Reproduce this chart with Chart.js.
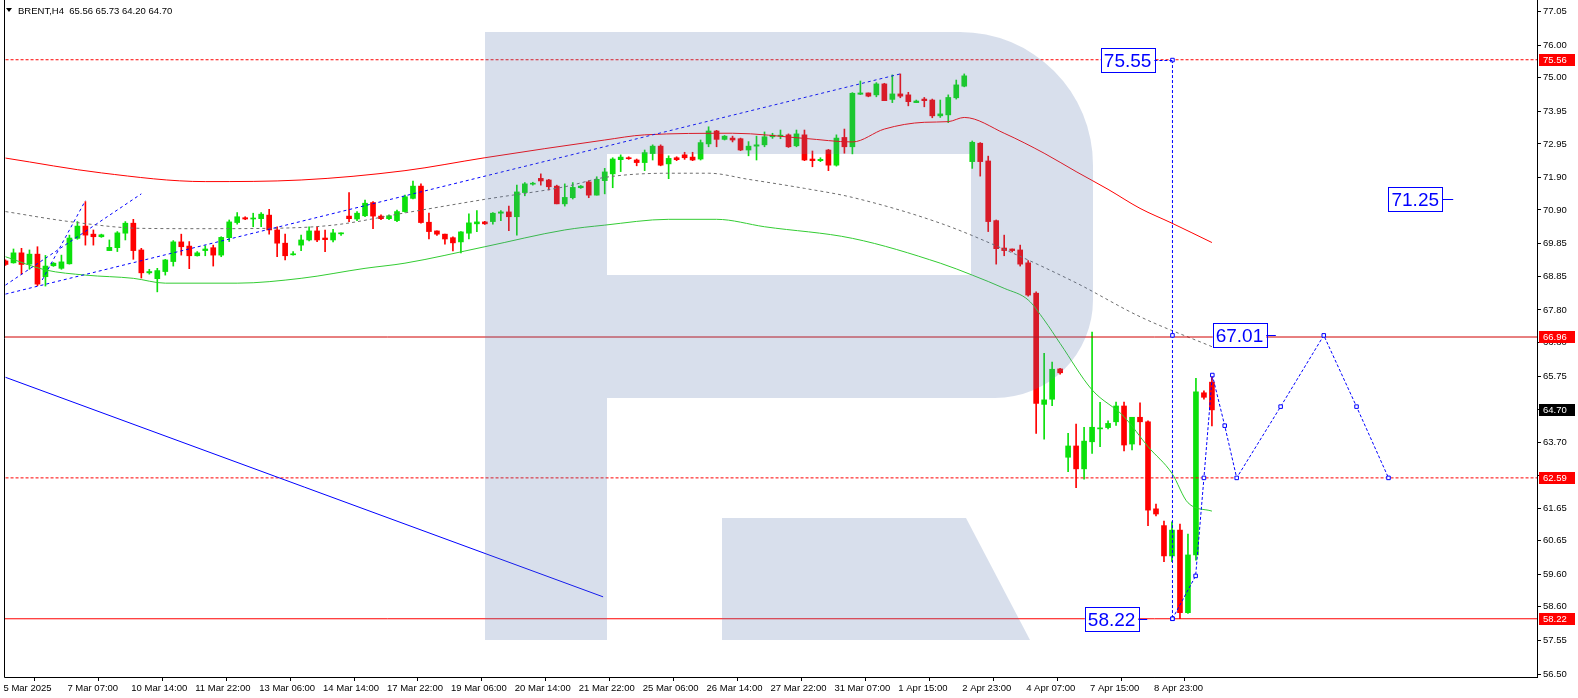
<!DOCTYPE html>
<html>
<head>
<meta charset="utf-8">
<script src="https://cdn.jsdelivr.net/npm/chart.js@4.4.1/dist/chart.umd.min.js"></script>
<style>
  html, body { margin: 0; padding: 0; background: #fff; }
  canvas { display: block; }
</style>
</head>
<body>
<canvas id="grafico" width="1578" height="698"></canvas>
<script>
const symbol = "BRENT,H4";

// H4 candles, one per bar index
const opens = [
  69.32,69.26,69.57,69.22,69.53,68.83,69.17,69.09,69.23,70.02,
  70.40,70.15,70.07,69.64,69.73,70.18,70.49,69.66,68.95,68.77,
  68.99,69.30,69.91,69.78,69.48,69.64,69.73,69.50,70.04,70.51,
  70.66,70.62,70.63,70.74,70.28,69.87,69.51,69.81,69.97,70.25,
  70.03,69.97,70.16,70.71,70.62,70.72,71.13,70.71,70.63,70.57,
  70.85,71.26,71.64,70.52,70.25,70.15,70.04,69.91,70.18,70.47,
  70.53,70.54,70.80,70.84,70.69,71.44,71.70,71.88,71.83,71.64,
  71.09,71.28,71.59,71.77,71.36,71.81,72.02,72.46,72.52,72.45,
  72.37,72.65,72.88,72.33,72.52,72.61,72.54,72.48,72.95,73.35,
  73.09,73.13,73.11,72.76,72.88,72.92,73.17,73.19,73.23,72.89,
  73.23,72.48,72.43,72.76,72.29,73.15,72.86,74.49,74.53,74.47,
  74.81,74.33,74.50,74.47,74.23,74.34,74.31,73.82,73.85,74.38,
  74.74,72.40,72.97,72.42,70.57,69.72,69.69,69.66,69.26,68.32,
  64.87,65.03,65.97,63.23,63.58,62.87,63.71,64.11,64.15,64.33,
  64.82,63.64,64.47,64.33,61.63,61.11,60.17,60.97,58.41,60.20,
  65.23,65.56
];
const highs = [
  69.35,69.69,69.71,69.66,69.76,69.49,69.27,69.50,70.12,70.54,
  71.16,70.28,70.15,69.97,70.23,70.54,70.61,69.71,69.06,69.09,
  69.37,69.95,70.15,69.92,69.61,69.79,69.81,70.07,70.59,70.82,
  70.69,70.80,70.82,70.92,70.38,70.15,69.61,70.12,70.38,70.38,
  70.28,70.30,70.19,71.44,70.85,71.21,71.16,70.75,70.75,70.90,
  71.36,71.80,71.71,70.80,70.25,70.15,70.07,70.23,70.78,70.88,
  70.55,70.82,70.88,71.02,71.67,71.75,71.76,72.02,71.85,71.67,
  71.71,71.75,71.66,71.81,71.93,72.19,72.52,72.61,72.55,72.48,
  72.76,72.92,72.92,72.58,72.55,72.69,72.69,73.07,73.48,73.37,
  73.21,73.19,73.13,73.02,73.19,73.32,73.28,73.38,73.26,73.38,
  73.38,72.73,72.52,72.78,73.23,73.41,74.54,74.90,74.53,74.85,
  74.83,75.09,75.12,74.55,74.31,74.39,74.34,74.31,74.47,74.93,
  75.12,73.04,72.99,72.57,70.59,70.12,69.69,69.81,69.33,68.36,
  66.45,66.18,65.99,63.97,64.26,64.16,67.11,64.93,64.36,64.94,
  64.94,64.47,64.92,64.36,61.78,61.25,61.23,61.16,60.85,65.68,
  65.29,65.73
];
const lows = [
  69.18,69.25,68.91,69.06,68.55,68.54,69.15,69.06,69.22,69.99,
  69.81,69.81,70.05,69.64,69.61,69.97,69.37,68.79,68.91,68.36,
  68.88,69.16,69.50,69.08,69.47,69.48,69.16,69.45,69.92,70.46,
  70.60,70.38,70.38,70.15,69.45,69.35,69.50,69.64,69.94,69.92,
  69.61,69.91,70.11,70.54,70.57,70.69,70.32,70.60,70.60,70.54,
  70.83,71.24,70.49,70.00,70.11,69.84,69.63,69.57,70.00,70.23,
  70.45,70.46,70.57,70.26,70.12,71.34,71.67,71.67,71.52,71.09,
  71.02,71.24,71.57,71.28,71.36,71.40,71.59,72.09,72.47,72.27,
  72.12,72.45,72.27,71.87,72.43,72.47,72.43,72.45,72.86,72.86,
  73.07,73.01,72.74,72.58,72.45,72.86,73.12,73.11,72.84,72.86,
  72.43,72.24,72.40,72.12,72.26,72.66,72.64,74.48,74.41,74.41,
  74.29,74.23,74.38,74.13,74.23,74.10,73.76,73.77,73.61,74.34,
  74.72,72.19,71.95,70.23,69.22,69.48,69.60,69.16,68.23,63.97,
  63.79,64.83,65.81,62.78,62.29,62.55,63.35,63.56,64.11,64.22,
  63.43,63.46,63.61,61.11,61.41,59.99,59.99,58.22,58.39,60.04,
  65.03,64.20
];
const closes = [
  69.21,69.57,69.21,69.53,68.60,69.16,69.25,69.29,70.03,70.40,
  70.12,70.07,70.13,69.74,70.19,70.49,69.64,68.95,68.99,69.02,
  69.35,69.91,69.76,69.48,69.57,69.69,69.50,70.05,70.53,70.69,
  70.62,70.64,70.77,70.28,69.87,69.48,69.54,69.97,70.25,69.97,
  69.98,70.19,70.19,70.63,70.80,71.11,70.71,70.63,70.72,70.85,
  71.31,71.64,70.51,70.23,70.15,70.00,69.88,70.22,70.50,70.53,
  70.47,70.80,70.84,70.69,71.46,71.71,71.73,71.80,71.62,71.09,
  71.29,71.60,71.64,71.36,71.85,72.08,72.48,72.54,72.49,72.37,
  72.68,72.88,72.29,72.50,72.46,72.52,72.45,72.99,73.35,73.09,
  73.19,73.07,72.76,72.88,72.92,73.17,73.22,73.22,72.86,73.26,
  72.45,72.43,72.47,72.29,73.13,72.86,74.52,74.53,74.43,74.81,
  74.29,74.50,74.43,74.26,74.28,74.29,73.82,73.88,74.39,74.78,
  75.06,73.00,72.40,70.54,69.70,69.64,69.64,69.22,68.26,64.90,
  65.01,65.96,65.85,63.58,62.87,63.73,64.16,64.14,64.28,64.82,
  63.61,64.47,64.33,61.59,61.47,60.17,60.97,58.41,60.20,65.26,
  65.09,64.70
];

// time axis: a label every 8 bars
const tickIdx = [0,8,16,24,32,40,48,56,64,72,80,88,96,104,112,120,128,136,144];
const tickLabels = ["5 Mar 2025","7 Mar 07:00","10 Mar 14:00","11 Mar 22:00","13 Mar 06:00",
  "14 Mar 14:00","17 Mar 22:00","19 Mar 06:00","20 Mar 14:00","21 Mar 22:00","25 Mar 06:00",
  "26 Mar 14:00","27 Mar 22:00","31 Mar 07:00","1 Apr 15:00","2 Apr 23:00","4 Apr 07:00",
  "7 Apr 15:00","8 Apr 23:00"];
const yTicks = [77.05,76.00,75.00,73.95,72.95,71.90,70.90,69.85,68.85,67.80,66.80,
  65.75,64.70,63.70,62.65,61.65,60.65,59.60,58.60,57.55,56.50];

// envelope lines (bar index, price)
const redIdx = [0,12,25,37,50,60,75,80,91,100,106,110,115,118,120,125,130,134,138,142,146,151];
const redVal = [72.51,72.05,71.78,71.83,72.12,72.52,73.07,73.23,73.28,73.12,73.01,73.41,73.62,73.64,73.77,73.28,72.66,72.09,71.54,70.95,70.49,69.89];
const grayIdx = [0,8,17,25,33,41,50,60,70,75,83,88,93,100,106,117,125,134,142,151];
const grayVal = [70.85,70.54,70.33,70.32,70.33,70.43,70.81,71.23,71.62,71.91,72.04,72.04,71.85,71.57,71.29,70.49,69.68,68.64,67.59,66.66];
const greenIdx = [0,5,10,16,20,29,37,45,50,60,70,75,83,89,95,106,117,121,125,128,130,132,136,140,143,146,148,151];
const greenVal = [69.45,69.04,68.88,68.78,68.63,68.63,68.78,69.09,69.25,69.76,70.28,70.43,70.61,70.61,70.38,70.02,69.25,68.88,68.47,68.11,67.49,66.76,65.32,64.49,63.56,62.73,61.82,61.56];

// trend lines
const trendLongIdx = [0, 112];
const trendLongVal = [68.29, 75.12];
const trendShortIdx = [0, 17];
const trendShortVal = [68.57, 71.40];
const trendSteepIdx = [4.6, 10];
const trendSteepVal = [68.73, 71.19];
const channelIdx = [0, 74.8];
const channelVal = [65.71, 58.90];

// levels
const levelTop = 75.56;
const levelClose = 66.96;
const levelTarget = 62.59;
const levelLow = 58.22;

// forecast
const projIdx = [146.06, 146.06, 146.06];
const projVal = [75.55, 67.01, 58.22];
const fcIdx = [146.06, 148.96, 150, 151.05, 152.6, 154.1, 159.6, 165.0, 169.1, 173.1];
const fcVal = [58.22, 59.55, 62.59, 65.78, 64.21, 62.59, 64.80, 67.01, 64.80, 62.59];
const boxTexts = ["75.55", "67.01", "71.25", "58.22"];
const boxVals = [75.55, 67.01, 71.25, 58.22];

const verde = "#0be00b";
const vermelho = "#ff0000";
const azul = "#0000ff";

// price scale of the terminal: 66.96 sits 337 px from the top, 32.24 px per dollar
const yRef = 337;
const pxPorDolar = 32.24;

function pts(xs, ys) {
  return xs.map((x, i) => ({ x: x, y: ys[i] }));
}
function nivel(v) {
  return [{ x: -5, y: v }, { x: 200, y: v }];
}

const corVela = opens.map((o, i) => closes[i] >= o ? verde : vermelho);

// anchors of the boxed labels: right edge of the box and end of its tail, in bar units
const boxAnchor = [[143.8, 146.06], [157.8, 159.0], [179.8, 181.2], [141.8, 142.9]];

const marca = {
  id: "marca",
  afterLayout(chart) {
    // keep the terminal's price-to-pixel mapping whatever room the layout left
    const ys = chart.scales.y;
    const a = chart.chartArea;
    ys.max = levelClose + (yRef - a.top) / pxPorDolar;
    ys.min = levelClose - (a.bottom - yRef) / pxPorDolar;
    ys.configure();
  },
  afterDatasetsDraw(chart) {
    const ctx = chart.ctx;
    ctx.save();
    ctx.fillStyle = "rgba(85,116,175,0.23)";
    ctx.beginPath();
    ctx.rect(485, 32, 122, 608);
    ctx.moveTo(607, 32);
    ctx.lineTo(960, 32);
    ctx.arcTo(1093, 32, 1093, 165, 133);
    ctx.lineTo(1093, 300);
    ctx.arcTo(1093, 398, 995, 398, 98);
    ctx.lineTo(607, 398);
    ctx.closePath();
    ctx.moveTo(607, 154);
    ctx.lineTo(607, 275);
    ctx.lineTo(971, 275);
    ctx.lineTo(971, 154);
    ctx.closePath();
    ctx.moveTo(722, 518);
    ctx.lineTo(966, 518);
    ctx.lineTo(1030, 640);
    ctx.lineTo(722, 640);
    ctx.closePath();
    ctx.fill("nonzero");
    ctx.restore();
  },
  afterDraw(chart) {
    const ctx = chart.ctx;
    const xs = chart.scales.x, ys = chart.scales.y;
    const a = chart.chartArea;
    ctx.save();

    // moldura
    ctx.strokeStyle = "#000";
    ctx.lineWidth = 1;
    ctx.beginPath();
    ctx.moveTo(a.left - 0.5, 0);
    ctx.lineTo(a.left - 0.5, a.bottom + 0.5);
    ctx.lineTo(a.right + 0.5, a.bottom + 0.5);
    ctx.lineTo(a.right + 0.5, 0);
    ctx.stroke();

    // titulo
    const n = opens.length - 1;
    ctx.fillStyle = "#000";
    ctx.beginPath();
    ctx.moveTo(6, 8); ctx.lineTo(12, 8); ctx.lineTo(9, 12); ctx.closePath();
    ctx.fill();
    ctx.font = "9.5px 'Liberation Sans'";
    ctx.textBaseline = "alphabetic";
    ctx.textAlign = "left";
    ctx.fillText(symbol + "  " + [opens[n], highs[n], lows[n], closes[n]].map(v => v.toFixed(2)).join(" "), 18, 14);

    // caixas azuis
    ctx.font = "19px 'Liberation Sans'";
    ctx.textBaseline = "middle";
    boxTexts.forEach((t, i) => {
      const xr = xs.getPixelForValue(boxAnchor[i][0]);
      const xe = xs.getPixelForValue(boxAnchor[i][1]);
      const y = Math.round(ys.getPixelForValue(boxVals[i])) + 0.5;
      const w = ctx.measureText(t).width + 6;
      ctx.fillStyle = "#fff";
      ctx.fillRect(xr - w, y - 12, w, 24);
      ctx.strokeStyle = azul;
      ctx.setLineDash([]);
      ctx.strokeRect(Math.round(xr - w) + 0.5, y - 12, Math.round(w), 24);
      ctx.beginPath();
      ctx.moveTo(xr, y); ctx.lineTo(xe, y);
      if (i === 0) ctx.setLineDash([3, 2]);
      ctx.stroke();
      ctx.setLineDash([]);
      ctx.fillStyle = azul;
      ctx.fillText(t, xr - w + 3, y + 1);
    });

    // etiquetas do eixo de precos
    const tags = [[levelTop, vermelho], [levelClose, vermelho], [closes[n], "#000"], [levelTarget, vermelho], [levelLow, vermelho]];
    ctx.font = "9.5px 'Liberation Sans'";
    tags.forEach(([v, c]) => {
      const y = Math.round(ys.getPixelForValue(v));
      ctx.fillStyle = c;
      ctx.fillRect(a.right + 2, y - 6, 36, 12);
      ctx.fillStyle = "#fff";
      ctx.fillText(v.toFixed(2), a.right + 6, y + 0.5);
    });
    ctx.restore();
  }
};

function montarGrafico() {
  const ctx = document.getElementById("grafico").getContext("2d");
  Chart.defaults.font.family = "'Liberation Sans', sans-serif";
  Chart.defaults.font.size = 9.5;
  Chart.defaults.color = "#000";

  const linha = (data, cor, extra) => Object.assign({
    type: "line", data: data, borderColor: cor, borderWidth: 1,
    pointRadius: 0, fill: false, order: 3
  }, extra || {});

  new Chart(ctx, {
    type: "bar",
    data: {
      datasets: [
        {
          label: "pavio",
          data: opens.map((o, i) => ({ x: i, y: [lows[i], highs[i]] })),
          backgroundColor: corVela, barThickness: 1, grouped: false, order: 10
        },
        {
          label: "corpo",
          data: opens.map((o, i) => ({ x: i, y: [o, closes[i]] })),
          backgroundColor: corVela, barThickness: 5, minBarLength: 1, grouped: false, order: 9
        },
        linha(pts(redIdx, redVal), "#ff0000", { cubicInterpolationMode: "monotone", order: 6 }),
        linha(pts(grayIdx, grayVal), "#6e6e6e", { cubicInterpolationMode: "monotone", borderDash: [3, 3], order: 6 }),
        linha(pts(greenIdx, greenVal), "#33cc33", { cubicInterpolationMode: "monotone", order: 6 }),
        linha(nivel(levelTop), "#ff0000", { borderDash: [3, 2], order: 5 }),
        linha(nivel(levelClose), "#d00000", { order: 5 }),
        linha(nivel(levelTarget), "#ff0000", { borderDash: [3, 2], order: 5 }),
        linha(nivel(levelLow), "#ff0000", { order: 5 }),
        linha(pts(trendLongIdx, trendLongVal), azul, { borderDash: [3, 3] }),
        linha(pts(trendShortIdx, trendShortVal), azul, { borderDash: [3, 3] }),
        linha(pts(trendSteepIdx, trendSteepVal), azul, { borderDash: [3, 3] }),
        linha(pts(channelIdx, channelVal), azul),
        linha(pts(projIdx, projVal), azul, {
          borderDash: [3, 2], pointRadius: 2.5, pointStyle: "rect",
          pointBackgroundColor: "#fff", pointBorderColor: azul, pointBorderWidth: 1, order: 1
        }),
        linha(pts(fcIdx, fcVal), azul, {
          borderDash: [3, 2], pointRadius: 2.5, pointStyle: "rect",
          pointBackgroundColor: "#fff", pointBorderColor: azul, pointBorderWidth: 1, order: 1
        })
      ]
    },
    options: {
      responsive: false,
      animation: false,
      devicePixelRatio: 1,
      layout: { padding: { left: 3, top: 0, right: 0, bottom: 0 } },
      plugins: { legend: { display: false }, tooltip: { enabled: false } },
      scales: {
        x: {
          type: "linear",
          min: -0.0625,
          max: 191.6875,
          offset: false,
          afterBuildTicks: s => { s.ticks = tickIdx.map(v => ({ value: v - 0.375 })); },
          afterFit: s => { s.height = 21; s.paddingLeft = 0; s.paddingRight = 0; },
          grid: { drawOnChartArea: false, tickLength: 4, color: "#000" },
          border: { display: true, color: "#000" },
          ticks: {
            align: "start", autoSkip: false, maxRotation: 0, padding: 2, labelOffset: 1,
            callback: (v, i) => tickLabels[i]
          }
        },
        y: {
          position: "right",
          min: 56.41,
          max: 77.41,
          afterBuildTicks: s => { s.ticks = yTicks.map(v => ({ value: v })); },
          afterFit: s => { s.width = 41; s.paddingTop = 0; s.paddingBottom = 0; },
          grid: { drawOnChartArea: false, tickLength: 4, color: "#000" },
          border: { display: true, color: "#000" },
          ticks: { autoSkip: false, padding: 2, callback: v => v.toFixed(2) }
        }
      }
    },
    plugins: [marca]
  });
}
document.addEventListener("DOMContentLoaded", montarGrafico);
</script>
</body>
</html>
